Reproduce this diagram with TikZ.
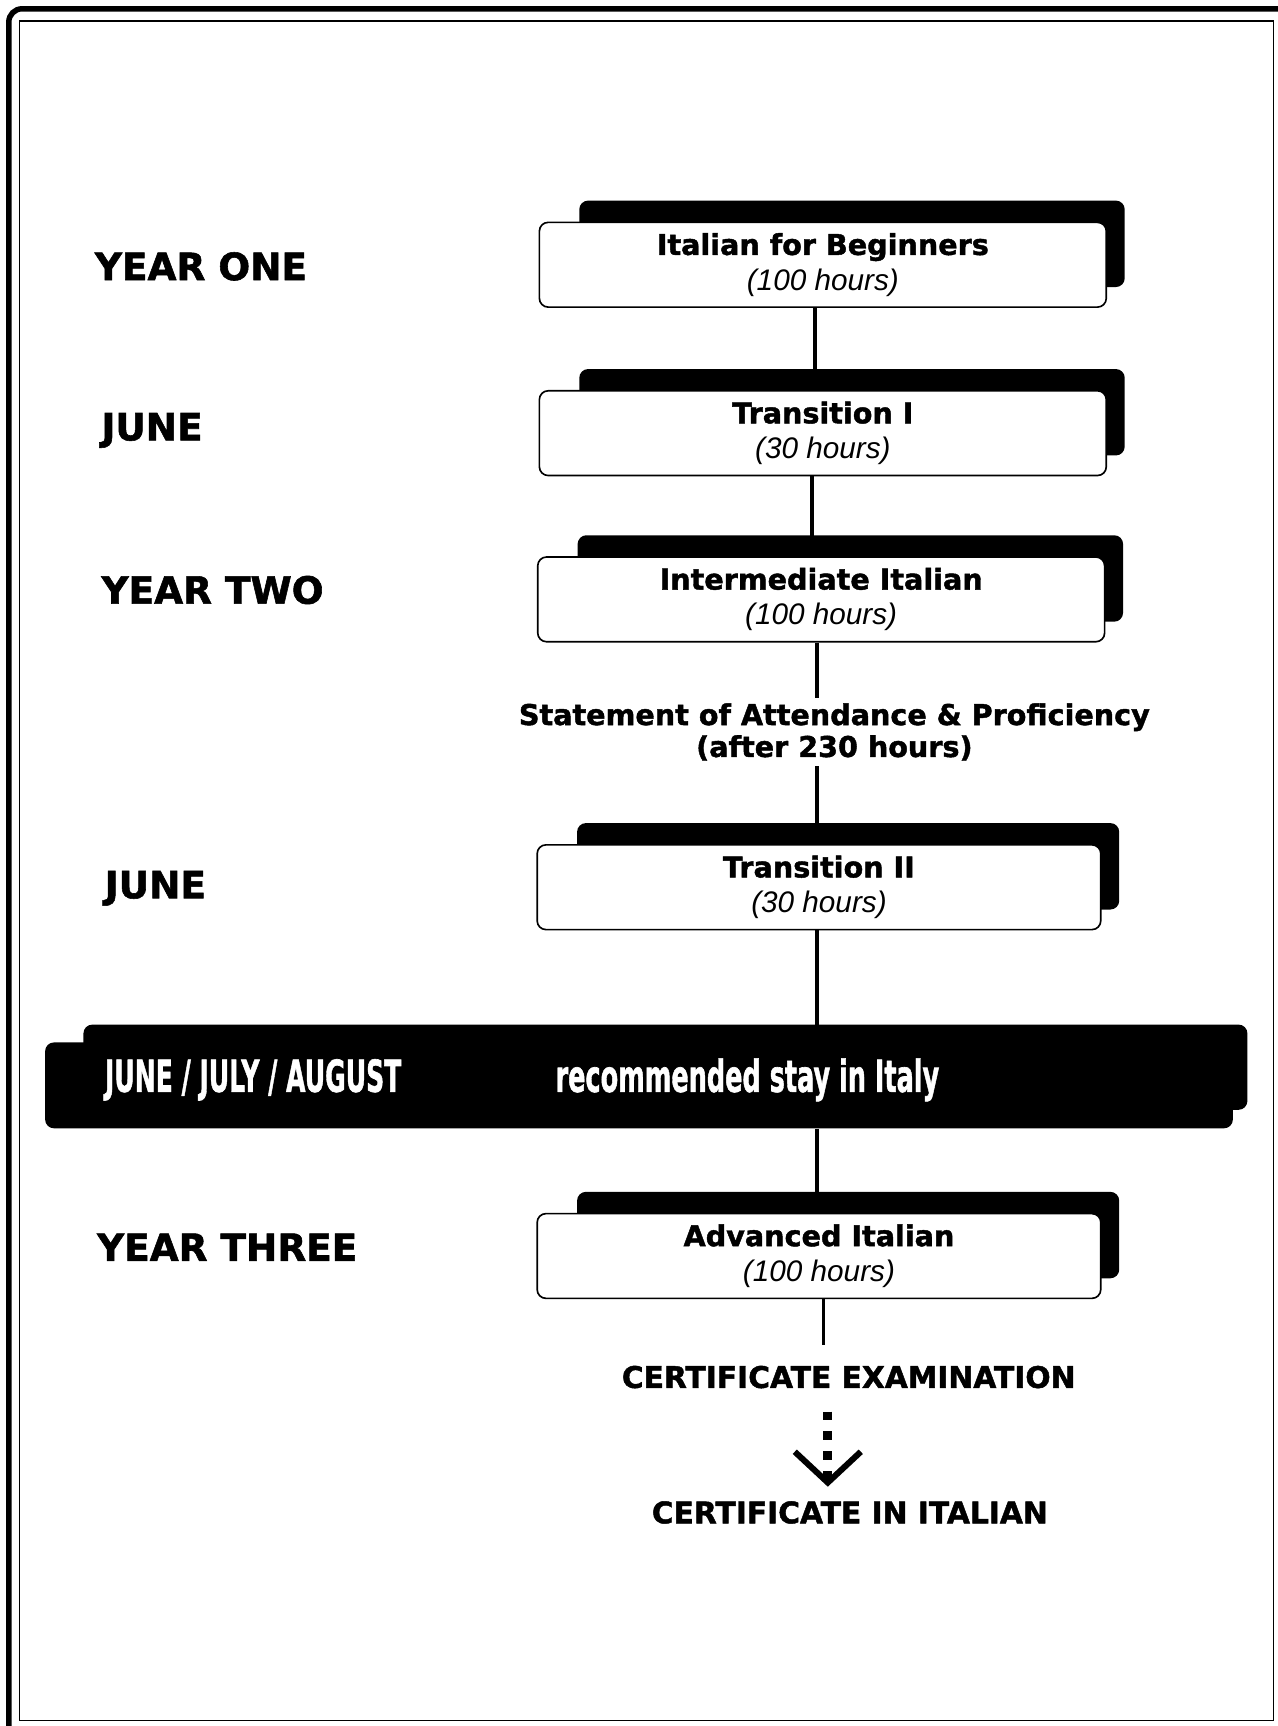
\documentclass[tikz,border=0pt]{standalone}
\usepackage{fontspec}
\usepackage{graphicx}
\setmainfont{DejaVu Sans}[BoldFeatures={FakeBold=1.5}]
\newfontfamily\itfont{Liberation Sans}
\usetikzlibrary{arrows.meta,backgrounds}
\tikzset{
  course/.style={draw, line width=1.5pt, fill=white, rounded corners=8pt,
    minimum width=515pt, minimum height=77pt, align=center, inner sep=0pt,
    font=\fontsize{26}{32}\selectfont},
  shade/.style={fill=black, rounded corners=8pt},
  lbl/.style={anchor=west, inner sep=0pt, font=\bfseries\fontsize{34}{40}\selectfont},
  link/.style={line width=3.2pt},
  note/.style={align=center, inner sep=0pt, font=\bfseries\fontsize{26}{29}\selectfont},
  capt/.style={inner sep=0pt, font=\bfseries\fontsize{27}{32}\selectfont},
  bantext/.style={inner sep=0pt, text=white, font=\bfseries\fontsize{40}{48}\selectfont},
  sqdash/.style={line width=8pt, dash pattern=on 8pt off 10pt}
}
\newcommand\shadowof[1]{\fill[shade] ([xshift=37pt,yshift=19pt]#1.north west) rectangle ([xshift=16pt,yshift=19pt]#1.south east);}
\begin{document}
\begin{tikzpicture}[x=1pt,y=-1pt]
\useasboundingbox (0,0) rectangle (1161,1568);
% frame
\draw[line width=1.2pt] (18,19) rectangle (1157,1563);
\draw[line width=5pt, rounded corners=12pt] (8,1568) -- (8,8) -- (1161,8);

% left labels
\node[lbl] (y1) at (86,242) {YEAR ONE};
\node[lbl] (j1) at (92,391) {JUNE};
\node[lbl] (y2) at (92,536) {YEAR TWO};
\node[lbl] (j2) at (95,807) {JUNE};
\node[lbl] (y3) at (88,1133) {YEAR THREE};

% course boxes
\node[course] (b1) at (747.5,240.5) {{\bfseries Italian for Beginners}\\{\itfont\itshape\fontsize{27}{32}\selectfont (100 hours)}};
\node[course] (b2) at (747.5,393.5) {{\bfseries Transition I}\\{\itfont\itshape\fontsize{27}{32}\selectfont (30 hours)}};
\node[course] (b3) at (746,544.5) {{\bfseries Intermediate Italian}\\{\itfont\itshape\fontsize{27}{32}\selectfont (100 hours)}};
\node[course, minimum width=512pt] (b4) at (744,806) {{\bfseries Transition II}\\{\itfont\itshape\fontsize{27}{32}\selectfont (30 hours)}};
\node[course, minimum width=512pt] (b5) at (744,1141) {{\bfseries Advanced Italian}\\{\itfont\itshape\fontsize{27}{32}\selectfont (100 hours)}};

\node[note, inner sep=5pt] (st) at (758,665) {Statement of Attendance \& Proficiency\\(after 230 hours)};

% banner
\node[fill=black, rounded corners=8pt, minimum width=1079pt, minimum height=78pt, inner sep=0pt] (ban) at (580.5,986) {};
\node[bantext] (bl) at (230,981) {\scalebox{0.57}[1]{JUNE / JULY / AUGUST}};
\node[bantext] (br) at (679,981) {\scalebox{0.58}[1]{recommended stay in Italy}};

\node[capt] (ex) at (771,1251) {CERTIFICATE EXAMINATION};
\node[capt] (ce) at (772,1374) {CERTIFICATE IN ITALIAN};

\begin{scope}[on background layer]
\shadowof{b1}
\shadowof{b2}
\shadowof{b3}
\shadowof{b4}
\shadowof{b5}
\fill[shade] ([xshift=35pt,yshift=16pt]ban.north west) rectangle ([xshift=13pt,yshift=17pt]ban.south east);
\end{scope}

% connectors
\draw[link] ([xshift=-7pt]b1.south) -- ([xshift=-7pt]b1.south |- b2.north);
\draw[link] ([xshift=-10pt]b2.south) -- ([xshift=-10pt]b2.south |- b3.north);
\draw[link] ([xshift=-4pt]b3.south) -- ([xshift=-4pt]b3.south |- st.north);
\draw[link] ([xshift=-2pt]b4.north |- st.south) -- ([xshift=-2pt]b4.north);
\draw[link] ([xshift=-2pt]b4.south) -- ([xshift=-2pt,yshift=16pt]b4.south |- ban.north);
\draw[link] ([xshift=-2pt]b5.north |- ban.south) -- ([xshift=-2pt]b5.north);
\draw[link, shorten >=19pt] ([xshift=4pt]b5.south) -- ([xshift=4pt]b5.south |- ex.north);
\draw[sqdash, shorten <=21pt, shorten >=13pt, -{Straight Barb[length=28pt,width=60pt,line width=5.5pt]}]
  ([xshift=-19pt]ex.south) -- ([xshift=-20pt]ce.north);
\end{tikzpicture}
\end{document}
